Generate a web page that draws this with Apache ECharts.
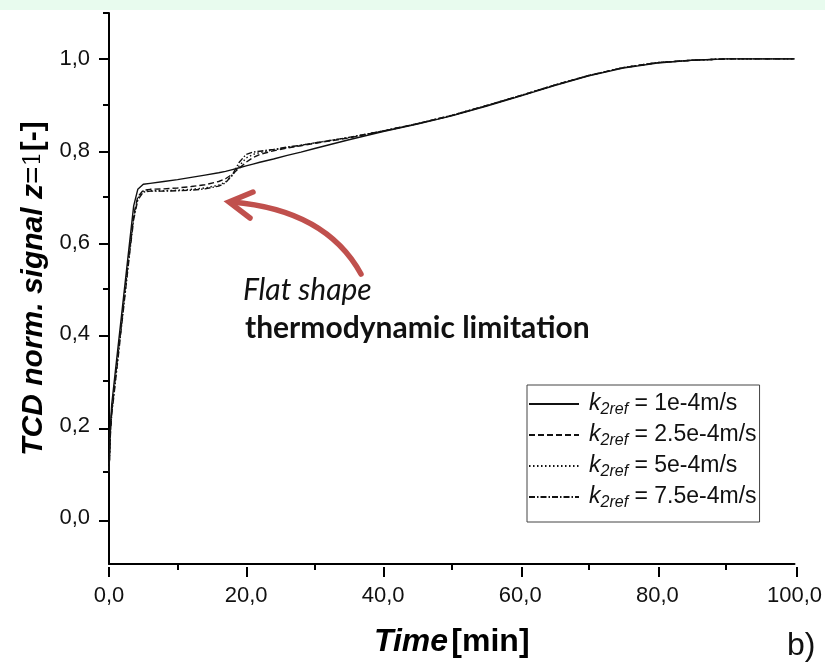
<!DOCTYPE html>
<html>
<head>
<meta charset="utf-8">
<title>TCD norm. signal</title>
<script src="https://cdn.jsdelivr.net/npm/echarts@6/dist/echarts.min.js"></script>
<style>
  html, body { margin: 0; padding: 0; background: #ffffff; }
  #chart { width: 825px; height: 663px; }
</style>
</head>
<body>
<div id="chart"></div>
<script>
// Time grid [min]
const timeMin = [0, 0.2, 0.4, 1, 2, 3, 3.6, 4.2, 5, 6, 8, 10, 12, 14, 16, 17, 18, 19, 20, 21, 22, 24, 26, 28, 30, 35, 40, 45, 50, 55, 60, 65, 70, 75, 80, 85, 90, 95, 100];

// Normalised TCD signal at z = 1 for each k2ref
const signalK1e4 = [0.100, 0.200, 0.248, 0.330, 0.465, 0.600, 0.680, 0.716, 0.727, 0.729, 0.733, 0.737, 0.742, 0.747, 0.752, 0.755, 0.759, 0.763, 0.767, 0.771, 0.775, 0.782, 0.790, 0.797, 0.805, 0.824, 0.842, 0.858, 0.876, 0.897, 0.919, 0.942, 0.963, 0.980, 0.991, 0.997, 1.000, 1.000, 1.000];
const signalK25e4 = [0.100, 0.190, 0.235, 0.315, 0.450, 0.585, 0.660, 0.700, 0.714, 0.716, 0.717, 0.719, 0.722, 0.726, 0.733, 0.739, 0.749, 0.762, 0.775, 0.785, 0.792, 0.800, 0.806, 0.811, 0.816, 0.828, 0.843, 0.859, 0.877, 0.898, 0.920, 0.943, 0.964, 0.981, 0.992, 0.997, 1.000, 1.000, 1.000];
const signalK5e4 = [0.100, 0.185, 0.230, 0.310, 0.445, 0.580, 0.655, 0.697, 0.712, 0.713, 0.713, 0.714, 0.716, 0.719, 0.725, 0.732, 0.746, 0.767, 0.784, 0.792, 0.796, 0.802, 0.807, 0.812, 0.817, 0.829, 0.843, 0.859, 0.877, 0.898, 0.920, 0.943, 0.964, 0.981, 0.992, 0.997, 1.000, 1.000, 1.000];
const signalK75e4 = [0.100, 0.180, 0.225, 0.305, 0.440, 0.575, 0.650, 0.693, 0.710, 0.712, 0.712, 0.713, 0.714, 0.717, 0.723, 0.730, 0.748, 0.775, 0.792, 0.797, 0.799, 0.803, 0.808, 0.812, 0.817, 0.829, 0.843, 0.859, 0.877, 0.898, 0.920, 0.943, 0.964, 0.981, 0.992, 0.997, 1.000, 1.000, 1.000];

// Legend values of k2ref
const k2refLabels = ['1e-4m/s', '2.5e-4m/s', '5e-4m/s', '7.5e-4m/s'];

// Axis ticks
const yMajorTicks = [0, 0.2, 0.4, 0.6, 0.8, 1.0];
const yMinorTicks = [0.1, 0.3, 0.5, 0.7, 0.9, 1.1];
const xMajorTicks = [0, 20, 40, 60, 80, 100];
const xMinorTicks = [10, 30, 50, 70, 90];
const yAxisMin = -0.1, yAxisMax = 1.1;
const xAxisMin = 0, xAxisMax = 100;

const signals = [signalK1e4, signalK25e4, signalK5e4, signalK75e4];
const dashTypes = ['solid', [6, 3], [1.5, 2.5], [6, 2, 1.5, 2]];

const toPairs = (ys) => timeMin.map((t, i) => [t, ys[i]]);
const commaFmt = (v) => v.toFixed(1).replace('.', ',');

const axisColor = '#000000';
const sans = 'Liberation Sans, Arial, sans-serif';
const labelFont = { fontFamily: sans, fontSize: 22, color: '#111111' };
const majorTickLen = 10;

// Plot rectangle
const chartW = 825, chartH = 663;
const gridLeft = 109, gridRight = 28, gridTop = 13, gridBottom = 96;
const plotW = chartW - gridLeft - gridRight;
const plotH = chartH - gridTop - gridBottom;

// Axis that only carries tick marks (ECharts gets its own copy of the values)
function tickOnlyAxis(pos, min, max, interval, values, len) {
  return {
    type: 'value', min, max, interval, position: pos,
    axisLine: { show: false, onZero: false },
    axisTick: { show: true, inside: false, length: len, customValues: values.slice(), lineStyle: { color: axisColor, width: 2 } },
    axisLabel: { show: false },
    splitLine: { show: false }
  };
}

const chart = echarts.init(document.getElementById('chart'), null, { renderer: 'canvas' });

const lineSeries = signals.map((ys, i) => ({
  name: k2refLabels[i],
  type: 'line',
  xAxisIndex: 0,
  yAxisIndex: 0,
  data: toPairs(ys),
  symbol: 'none',
  smooth: false,
  z: 4 - i,
  itemStyle: { color: '#111111' },
  lineStyle: { color: '#111111', width: 1.4, type: dashTypes[i] }
}));

// Major tick marks along both axes of the plot rectangle
const xPx = (v) => gridLeft + (v - xAxisMin) / (xAxisMax - xAxisMin) * plotW;
const yPx = (v) => gridTop + (yAxisMax - v) / (yAxisMax - yAxisMin) * plotH;
const majorTickMarks = [];
yMajorTicks.forEach((v) => {
  const y = Math.round(yPx(v));
  majorTickMarks.push({ type: 'line', silent: true, z: 20, shape: { x1: gridLeft - majorTickLen, y1: y, x2: gridLeft, y2: y }, style: { stroke: axisColor, lineWidth: 2 } });
});
xMajorTicks.forEach((v) => {
  const x = Math.round(xPx(v));
  const y0 = chartH - gridBottom;
  majorTickMarks.push({ type: 'line', silent: true, z: 20, shape: { x1: x, y1: y0, x2: x, y2: y0 + majorTickLen }, style: { stroke: axisColor, lineWidth: 2 } });
});

chart.setOption({
  backgroundColor: '#ffffff',
  animation: false,
  color: ['#111111', '#111111', '#111111', '#111111'],
  grid: { left: gridLeft, right: gridRight, top: gridTop, bottom: gridBottom, containLabel: false },
  legend: {
    orient: 'vertical',
    left: 527,
    top: 385,
    padding: [5, 3, 11, 1],
    itemGap: 3,
    itemWidth: 50,
    itemHeight: 14,
    borderColor: '#444444',
    borderWidth: 1,
    backgroundColor: '#ffffff',
    itemStyle: { opacity: 0 },
    data: k2refLabels.slice(),
    formatter: (name) => '{k|k}{s|2ref}{t| = ' + name + '}',
    textStyle: {
      color: '#111111',
      fontFamily: sans,
      rich: {
        k: { fontSize: 23, fontStyle: 'italic', lineHeight: 22, padding: [0, 0, 0, 5] },
        s: { fontSize: 16, fontStyle: 'italic', lineHeight: 10, padding: [12, 0, 0, 0] },
        t: { fontSize: 23, lineHeight: 22 }
      }
    }
  },
  xAxis: [
    {
      type: 'value',
      min: xAxisMin,
      max: xAxisMax,
      interval: 10,
      name: '{it|Time} {b|[min]}',
      nameLocation: 'middle',
      nameGap: 62,
      nameTextStyle: {
        rich: {
          it: { fontFamily: sans, fontSize: 32, fontWeight: 'bold', fontStyle: 'italic', color: '#000' },
          b: { fontFamily: sans, fontSize: 32, fontWeight: 'bold', color: '#000' }
        }
      },
      axisLine: { show: true, onZero: false, lineStyle: { color: axisColor, width: 2 } },
      axisTick: { show: false },
      axisLabel: Object.assign({ margin: 21, customValues: xMajorTicks.slice(), formatter: commaFmt }, labelFont),
      splitLine: { show: false }
    },
    tickOnlyAxis('bottom', xAxisMin, xAxisMax, 10, xMinorTicks, 6)
  ],
  yAxis: [
    {
      type: 'value',
      min: yAxisMin,
      max: yAxisMax,
      interval: 0.1,
      name: '{it|TCD norm. signal z}{eq|=}{one|1}{b|[-]}',
      nameLocation: 'middle',
      nameGap: 57,
      nameTextStyle: {
        rich: {
          it: { fontFamily: sans, fontSize: 30, fontWeight: 'bold', fontStyle: 'italic', color: '#000' },
          eq: { fontFamily: sans, fontSize: 30, color: '#000' },
          one: { fontFamily: 'DejaVu Serif, serif', fontSize: 24, color: '#000' },
          b: { fontFamily: sans, fontSize: 30, fontWeight: 'bold', color: '#000' }
        }
      },
      axisLine: { show: true, onZero: false, lineStyle: { color: axisColor, width: 2 } },
      axisTick: { show: false },
      axisLabel: Object.assign({ margin: 19, customValues: yMajorTicks.slice(), formatter: commaFmt }, labelFont),
      splitLine: { show: false }
    },
    tickOnlyAxis('left', yAxisMin, yAxisMax, 0.1, yMinorTicks, 6)
  ],
  series: lineSeries,
  graphic: {
    zlevel: 1,
    elements: [
      // pale band across the top edge
      { type: 'rect', left: 0, top: 0, z: 0, shape: { width: chartW, height: 10 }, style: { fill: '#e8fbee' } },
      // annotation arrow
      {
        type: 'bezierCurve',
        z: 10,
        shape: { x1: 361, y1: 274, cpx1: 326, cpy1: 210, x2: 232, y2: 202 },
        style: { stroke: '#c0504d', lineWidth: 5.5, fill: null, lineCap: 'round' }
      },
      {
        type: 'polyline',
        z: 10,
        shape: { points: [[253, 192], [229, 202], [250, 218]] },
        style: { stroke: '#c0504d', lineWidth: 5.5, fill: null, lineCap: 'round', lineJoin: 'miter' }
      },
      {
        type: 'text',
        z: 10,
        x: 243, y: 290,
        style: { text: 'Flat shape', font: 'italic 30px Lato, sans-serif', fill: '#111111', textAlign: 'left', textVerticalAlign: 'middle' }
      },
      {
        type: 'text',
        z: 10,
        x: 245, y: 328,
        style: { text: 'thermodynamic limitation', font: 'bold 30px Lato, sans-serif', fill: '#111111', textAlign: 'left', textVerticalAlign: 'middle' }
      },
      {
        type: 'text',
        z: 10,
        x: 787, y: 646,
        style: { text: 'b)', font: '32px "Liberation Sans", Arial, sans-serif', fill: '#111111', textAlign: 'left', textVerticalAlign: 'middle' }
      }
    ].concat(majorTickMarks)
  }
});
</script>
</body>
</html>
